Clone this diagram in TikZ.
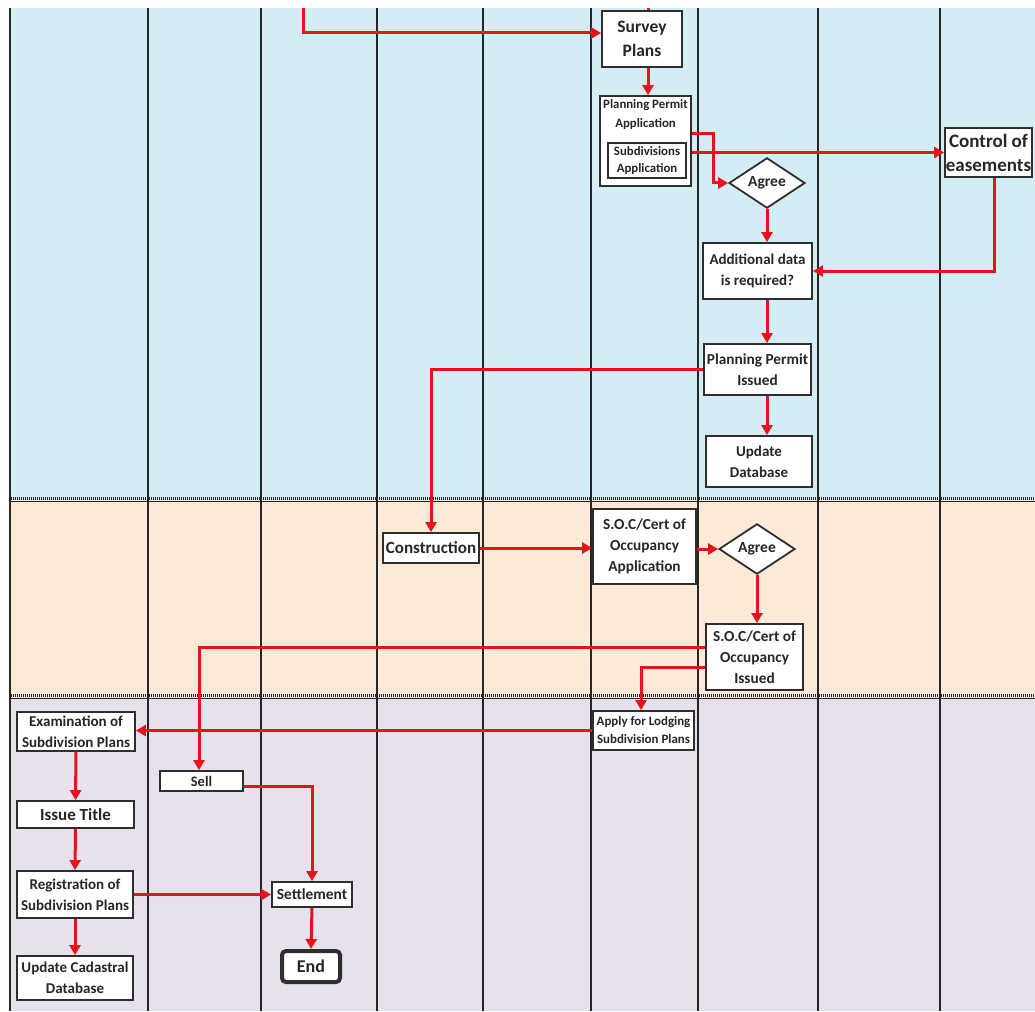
\documentclass[tikz,border=0pt]{standalone}
\usepackage{fontspec}
\setmainfont{Carlito}
\usetikzlibrary{arrows.meta,shapes.geometric,calc}
\definecolor{laneblue}{HTML}{D4ECF3}
\definecolor{lanepeach}{HTML}{FDE9D8}
\definecolor{lanelav}{HTML}{E6E1EC}
\definecolor{arrred}{HTML}{E3141C}
\definecolor{boxline}{HTML}{2E2E2E}
\begin{document}
\begin{tikzpicture}[x=1pt,y=-1pt,
  box/.style={draw=boxline,line width=1.8pt,fill=white,rectangle,inner sep=0.5pt,align=center,font=\bfseries,text=black!85},
  dia/.style={draw=boxline,line width=1.8pt,fill=white,diamond,inner sep=0pt,align=center,font=\bfseries\fontsize{15.5}{17}\selectfont,text=black!85},
  conn/.style={draw=arrred,line width=3pt},
  arr/.style={conn,-{Triangle[length=10pt,width=11pt]}},
  sep/.style={draw=black!85,line width=2pt}]
\useasboundingbox (0,0) rectangle (1035,1011);
\fill[white] (0,0) rectangle (1035,1011);
% lanes
\fill[laneblue] (9,8) rectangle (1035,500);
\fill[lanepeach] (9,500) rectangle (1035,697);
\fill[lanelav] (9,697) rectangle (1035,1011);
% columns
\foreach \x in {10,148,261,377,483,591,698,818,940}
  \draw[sep] (\x,8) -- (\x,1011);
% lane separators
\foreach \y in {500,697}{
  \draw[black!85,line width=1.3pt] (9,\y+1.5) -- (1035,\y+1.5);
  \draw[black!85,line width=2.5pt,dash pattern=on 1pt off 1pt] (9,\y-1.5) -- (1035,\y-1.5);
}
% nodes
\node[box,minimum width=80pt,minimum height=56pt,font=\bfseries\fontsize{17.5}{24}\selectfont] (sp) at (642,39) {Survey\\Plans};
\node[box,minimum width=91pt,minimum height=90pt] (ppa) at (645.5,141) {};
\node[align=center,inner sep=0pt,font=\bfseries\fontsize{12.8}{19}\selectfont,text=black!85] (ppat) at (645.5,115) {Planning Permit\\Application};
\node[box,line width=1.4pt,minimum width=78pt,minimum height=35pt,font=\bfseries\fontsize{12.8}{17}\selectfont] (sub) at (647,160.5) {Subdivisions\\Application};
\node[dia,minimum width=76pt,minimum height=50pt] (ag1) at (767,183) {Agree};
\node[box,minimum width=87pt,minimum height=49pt,font=\bfseries\fontsize{19}{24}\selectfont] (ce) at (988.5,152.5) {Control of\\easements};
\node[box,minimum width=109pt,minimum height=56pt,font=\bfseries\fontsize{15}{21}\selectfont] (ad) at (757.5,271) {Additional data\\is required?};
\node[box,minimum width=107pt,minimum height=51pt,font=\bfseries\fontsize{15.3}{21}\selectfont] (ppi) at (757.5,369.5) {Planning Permit\\Issued};
\node[box,minimum width=106pt,minimum height=51pt,font=\bfseries\fontsize{15}{21}\selectfont] (ud) at (759,461.5) {Update\\Database};
\node[box,minimum width=96pt,minimum height=30pt,font=\bfseries\fontsize{17}{19}\selectfont] (con) at (431,548) {Construction};
\node[box,minimum width=103pt,minimum height=75pt,font=\bfseries\fontsize{15.3}{21}\selectfont] (soca) at (644.5,546.5) {S.O.C/Cert of\\Occupancy\\Application};
\node[dia,minimum width=76pt,minimum height=50pt] (ag2) at (757,549) {Agree};
\node[box,minimum width=97pt,minimum height=66pt,font=\bfseries\fontsize{15.3}{21}\selectfont] (soci) at (754.5,657) {S.O.C/Cert of\\Occupancy\\Issued};
\node[box,minimum width=101pt,minimum height=39pt,font=\bfseries\fontsize{12.9}{18}\selectfont] (alp) at (643.5,730.5) {Apply for Lodging\\Subdivision Plans};
\node[box,minimum width=118pt,minimum height=39pt,font=\bfseries\fontsize{15}{21}\selectfont] (ex) at (76,731.5) {Examination of\\Subdivision Plans};
\node[box,minimum width=117pt,minimum height=27pt,font=\bfseries\fontsize{17}{19}\selectfont] (it) at (75.5,814.5) {Issue Title};
\node[box,minimum width=116pt,minimum height=47pt,font=\bfseries\fontsize{15}{21}\selectfont] (reg) at (75,894.5) {Registration of\\Subdivision Plans};
\node[box,minimum width=116pt,minimum height=44pt,font=\bfseries\fontsize{15}{21}\selectfont] (ucd) at (75,978) {Update Cadastral\\Database};
\node[box,minimum width=83pt,minimum height=20pt,font=\bfseries\fontsize{14.5}{16}\selectfont] (sell) at (201.5,781) {Sell};
\node[box,minimum width=80pt,minimum height=25pt,font=\bfseries\fontsize{15.4}{17}\selectfont] (set) at (312,894.5) {Settlement};
\node[box,line width=4pt,rounded corners=4pt,minimum width=58pt,minimum height=31pt,font=\bfseries\fontsize{18}{20}\selectfont] (end) at (311,966.5) {End};
% free ends
\coordinate (tin) at (303,8);
\coordinate (tin2) at (648,8);
% connectors
\draw[arr] (tin) |- ($(sp.west)+(0,-6)$);
\draw[conn] (tin2) -- (tin2 |- sp.north);
\draw[arr] (tin2 |- sp.south) -- (tin2 |- ppa.north);
\draw[arr] ($(ppa.east)+(0,-7)$) -- ++(22,0) |- (ag1.west);
\draw[arr] (ppa.east |- ce.west) -- (ce.west);
\draw[arr] ($(ce.south)+(6,0)$) |- (ad.east);
\draw[arr] (ag1.south) -- (ag1.south |- ad.north);
\draw[arr] (ag1.south |- ad.south) -- (ag1.south |- ppi.north);
\draw[arr] (ag1.south |- ppi.south) -- (ag1.south |- ud.north);
\draw[arr] (ppi.west) -| (con.north);
\draw[arr] (con.east) -- (soca.west |- con.east);
\draw[arr] (soca.east |- ag2.west) -- (ag2.west);
\draw[arr] (ag2.south) -- (ag2.south |- soci.north);
\draw[arr] ($(soci.west)+(0,-10)$) -| ($(sell.north)+(-2.5,0)$);
\draw[arr] ($(soci.west)+(0,10)$) -| ($(alp.north)+(-2.5,0)$);
\draw[arr] (alp.west) -- (alp.west -| ex.east);
\draw[arr] (ex.south) -- (it.north);
\draw[arr] (it.south) -- (reg.north);
\draw[arr] (reg.south) -- (ucd.north);
\draw[arr] (reg.east) -- (set.west);
\draw[arr] ($(sell.east)+(0,5)$) -| (set.north);
\draw[arr] (set.south) -- (end.north);
\end{tikzpicture}
\end{document}
